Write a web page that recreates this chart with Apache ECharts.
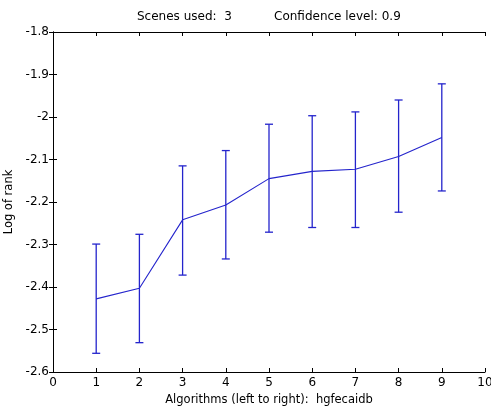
<!DOCTYPE html>
<html><head><meta charset="utf-8">
<script src="https://cdn.jsdelivr.net/npm/echarts@6/dist/echarts.min.js"></script>
<style>html,body{margin:0;padding:0;background:#fff}#c{width:491px;height:407px}</style>
</head><body><div id="c"></div>
<script>
const algorithms = [1, 2, 3, 4, 5, 6, 7, 8, 9];
const meanValues = [-2.428, -2.403, -2.242, -2.207, -2.145, -2.128, -2.123, -2.093, -2.048];
const lowerValues = [-2.556, -2.531, -2.372, -2.334, -2.271, -2.260, -2.260, -2.224, -2.174];
const upperValues = [-2.299, -2.276, -2.115, -2.079, -2.017, -1.997, -1.988, -1.960, -1.922];
const titleLeft = 'Scenes used:  3';
const titleRight = 'Confidence level: 0.9';
const xName = 'Algorithms (left to right):  hgfecaidb';
const yName = 'Log of rank';

const blue = '#2424cc';
const font = 'DejaVu Sans, sans-serif';
const fs = 12;
const fsName = 11.5;
const chart = echarts.init(document.getElementById('c'));
const lineData = algorithms.map((a, i) => [a, meanValues[i]]);
const errData = algorithms.map((a, i) => [a, lowerValues[i], upperValues[i]]);

const axisCommon = {
  type: 'value',
  axisLine: {show: true, lineStyle: {color: '#000', width: 1}},
  axisTick: {show: true, inside: true, length: 4, lineStyle: {color: '#000'}},
  splitLine: {show: false},
  axisLabel: {color: '#000', fontSize: fs, fontFamily: font}
};
const tStyle = {fontSize: fs, fontWeight: 'normal', color: '#000', fontFamily: font};

chart.setOption({
  animation: false,
  backgroundColor: '#fff',
  title: [
    {text: titleLeft, left: 137, top: 11, padding: 0, textStyle: tStyle},
    {text: titleRight, left: 274, top: 11, padding: 0, textStyle: tStyle}
  ],
  grid: {left: 53, right: 6, top: 32, bottom: 35, containLabel: false, outerBoundsMode: 'none'},
  xAxis: [
    Object.assign({}, axisCommon, {min: 0, max: 10, interval: 1, position: 'bottom',
      name: xName, nameLocation: 'middle', nameGap: 22,
      nameTextStyle: {fontSize: fsName, color: '#000', fontFamily: font},
      axisLabel: {color: '#000', fontSize: fs, fontFamily: font, margin: 5}}),
    Object.assign({}, axisCommon, {min: 0, max: 10, interval: 1, position: 'top',
      axisLabel: {show: false}})
  ],
  yAxis: [
    Object.assign({}, axisCommon, {min: -2.6, max: -1.8, interval: 0.1, position: 'left',
      name: yName, nameLocation: 'middle', nameGap: 36,
      nameTextStyle: {fontSize: fsName, color: '#000', fontFamily: font},
      axisLabel: {color: '#000', fontSize: fs, fontFamily: font, margin: 4,
        formatter: v => String(+v.toFixed(2))}}),
    Object.assign({}, axisCommon, {min: -2.6, max: -1.8, interval: 0.1, position: 'right',
      axisLabel: {show: false}})
  ],
  series: [
    {type: 'line', data: lineData, showSymbol: false, symbol: 'none',
      lineStyle: {color: blue, width: 1.1}, z: 3},
    {type: 'custom', data: errData, z: 2,
      renderItem: function (params, api) {
        const x = api.value(0);
        const lo = api.coord([x, api.value(1)]);
        const hi = api.coord([x, api.value(2)]);
        const hw = 4;
        const st = {stroke: blue, lineWidth: 1.3, fill: null};
        return {type: 'group', children: [
          {type: 'line', shape: {x1: lo[0], y1: lo[1], x2: hi[0], y2: hi[1]}, style: st},
          {type: 'line', shape: {x1: lo[0] - hw, y1: lo[1], x2: lo[0] + hw, y2: lo[1]}, style: st},
          {type: 'line', shape: {x1: hi[0] - hw, y1: hi[1], x2: hi[0] + hw, y2: hi[1]}, style: st}
        ]};
      }}
  ]
});
</script></body></html>
